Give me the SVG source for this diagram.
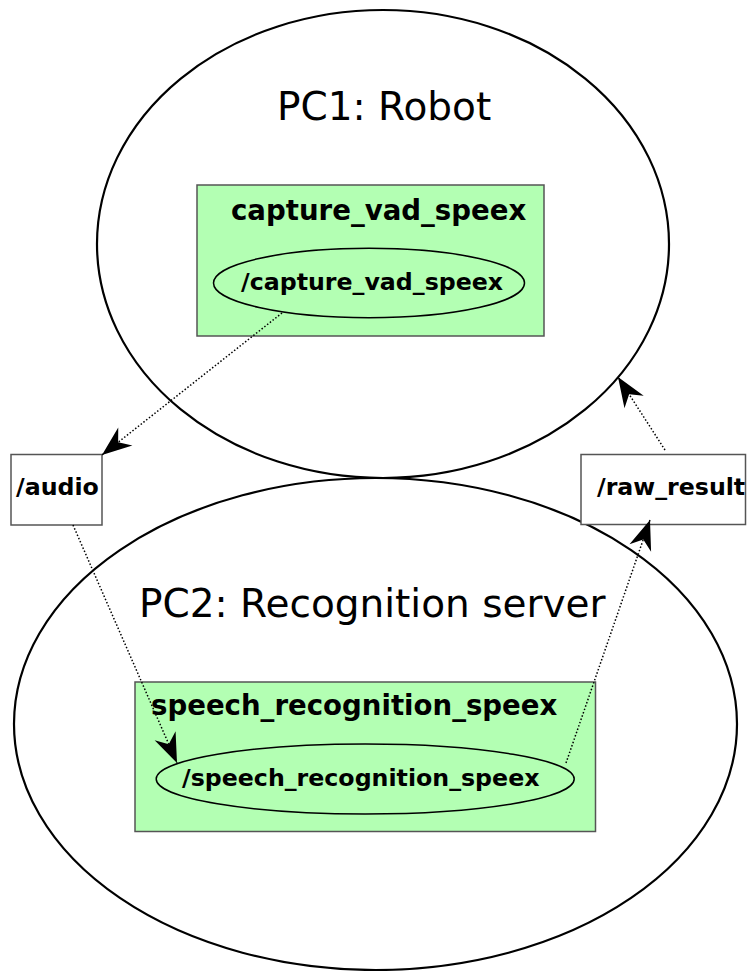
<svg xmlns="http://www.w3.org/2000/svg" width="748" height="971" viewBox="0 0 748 971">
<style>
.bg{fill:#ffffff}
.pc{fill:none;stroke:#000;stroke-width:2.2}
.cluster{fill:#b3ffb3;stroke:#555;stroke-width:1.5}
.node{fill:none;stroke:#000;stroke-width:1.5}
.topic{fill:#fff;stroke:#555;stroke-width:1.5}
.pct{font-family:"DejaVu Sans",sans-serif;font-size:39px;fill:#000}
.ct{font-family:"DejaVu Sans",sans-serif;font-weight:bold;font-size:27.6px;fill:#000}
.nt{font-family:"DejaVu Sans",sans-serif;font-weight:bold;font-size:23.7px;fill:#000}
.edge{fill:none;stroke:#000;stroke-width:1.5;stroke-dasharray:1.5 2}
</style>
<defs>
<marker id="arr" markerUnits="userSpaceOnUse" markerWidth="40" markerHeight="40" viewBox="-30 -15 35 30" refX="0" refY="0" orient="auto">
<path d="M0,0 L-26,-10 L-18,0 L-26,10 Z" fill="#000"/>
</marker>
</defs>
<rect class="bg" x="0" y="0" width="748" height="971"/>
<g id="pc1">
<ellipse class="pc" cx="383" cy="244" rx="286" ry="234"/>
<text class="pct" x="277" y="120">PC1: Robot</text>
</g>
<g id="pc2">
<ellipse class="pc" cx="375.5" cy="724" rx="361.5" ry="246"/>
<text class="pct" x="139" y="617">PC2: Recognition server</text>
</g>
<g id="cluster_capture">
<rect class="cluster" x="197" y="185" width="347" height="151"/>
<text class="ct" x="231" y="220">capture_vad_speex</text>
</g>
<g id="node_capture">
<ellipse class="node" cx="369" cy="283" rx="155.5" ry="34.7"/>
<text class="nt" x="241" y="290">/capture_vad_speex</text>
</g>
<g id="cluster_speech">
<rect class="cluster" x="135" y="682" width="460.5" height="149.5"/>
<text class="ct" x="151" y="715">speech_recognition_speex</text>
</g>
<g id="node_speech">
<ellipse class="node" cx="365.2" cy="779" rx="209" ry="35"/>
<text class="nt" x="182" y="786">/speech_recognition_speex</text>
</g>
<g id="topic_audio">
<rect class="topic" x="11" y="454.5" width="91" height="70.5"/>
<text class="nt" x="16" y="495">/audio</text>
</g>
<g id="topic_raw_result">
<rect class="topic" x="581" y="454.5" width="164.5" height="70"/>
<text class="nt" x="597" y="495">/raw_result</text>
</g>
<g id="connectors">
<path class="edge" d="M282,313 L102,455" marker-end="url(#arr)"/>
<path class="edge" d="M73,525 L177,763" marker-end="url(#arr)"/>
<path class="edge" d="M566,763 L650,520" marker-end="url(#arr)"/>
<path class="edge" d="M665,450 L618,377" marker-end="url(#arr)"/>
</g>
</svg>
